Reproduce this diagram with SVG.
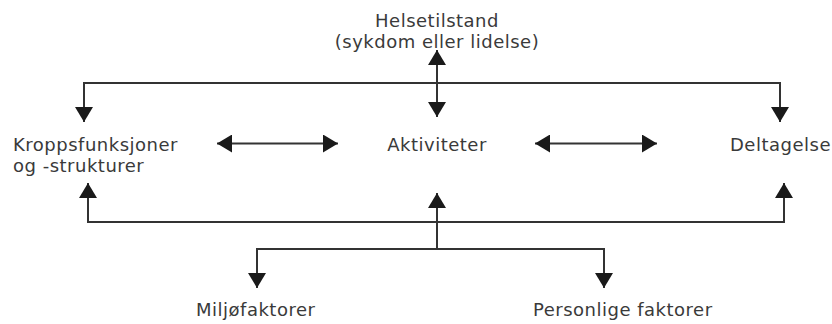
<svg xmlns="http://www.w3.org/2000/svg" width="832" height="324" viewBox="0 0 832 324">
  <defs>
    <style>
      .lbl { font-family: "DejaVu Sans", "Liberation Sans", sans-serif; font-size: 18px; fill: #3a3a3a; letter-spacing: 0.5px; }
      .mid { text-anchor: middle; }
      .con { fill: none; stroke: #333333; stroke-width: 2; }
    </style>
    <marker id="ah" viewBox="0 0 15 18" refX="15" refY="9" markerWidth="15" markerHeight="18" markerUnits="userSpaceOnUse" orient="auto-start-reverse">
      <path d="M0,0 L15,9 L0,18 Z" fill="#1a1a1a"/>
    </marker>
  </defs>
  <rect width="832" height="324" fill="#ffffff"/>

  <g id="connectors">
    <path class="con" d="M84,122 V83 H780 V122" marker-start="url(#ah)" marker-end="url(#ah)"/>
    <path class="con" d="M437,50 V117" marker-start="url(#ah)" marker-end="url(#ah)"/>
    <path class="con" d="M217,143.5 H338" marker-start="url(#ah)" marker-end="url(#ah)"/>
    <path class="con" d="M535,143.5 H657" marker-start="url(#ah)" marker-end="url(#ah)"/>
    <path class="con" d="M88,183 V222 H784 V183" marker-start="url(#ah)" marker-end="url(#ah)"/>
    <path class="con" d="M437,249 V193" marker-end="url(#ah)"/>
    <path class="con" d="M257,288 V249 H604 V288" marker-start="url(#ah)" marker-end="url(#ah)"/>
  </g>

  <g id="helsetilstand">
    <text class="lbl mid" x="437" y="27">Helsetilstand</text>
    <text class="lbl mid" x="437" y="48">(sykdom eller lidelse)</text>
  </g>
  <g id="kroppsfunksjoner">
    <text class="lbl" x="13" y="151">Kroppsfunksjoner</text>
    <text class="lbl" x="13" y="172">og -strukturer</text>
  </g>
  <g id="aktiviteter">
    <text class="lbl mid" x="437" y="151">Aktiviteter</text>
  </g>
  <g id="deltagelse">
    <text class="lbl" x="730" y="151">Deltagelse</text>
  </g>
  <g id="miljofaktorer">
    <text class="lbl" x="196" y="316">Miljøfaktorer</text>
  </g>
  <g id="personlige">
    <text class="lbl" x="533" y="316">Personlige faktorer</text>
  </g>
</svg>
